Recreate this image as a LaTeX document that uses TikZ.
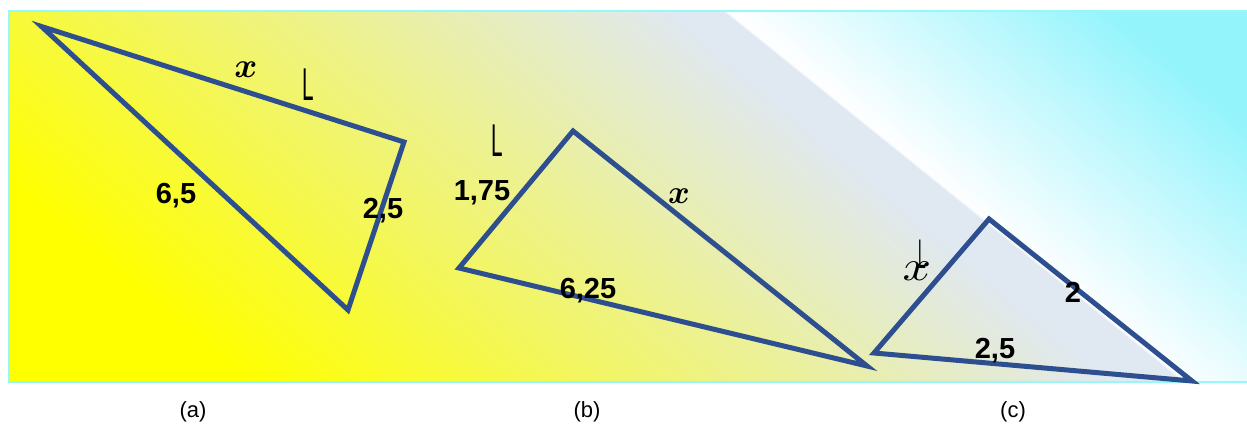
\documentclass[tikz,border=0pt]{standalone}
\usepackage{fontspec}
\setmainfont{Liberation Sans}
\usepackage{bm}
\definecolor{triblue}{RGB}{46,79,143}
\definecolor{cY}{RGB}{255,255,0}
\definecolor{cL}{RGB}{224,232,242}
\definecolor{cW}{RGB}{252,254,255}
\definecolor{cC}{RGB}{148,244,252}
\definecolor{cBorder}{RGB}{150,248,250}
\pgfdeclarehorizontalshading{lowsh}{100bp}{color(0bp)=(cY); color(25bp)=(cY); color(63bp)=(cL); color(100bp)=(cL)}
\pgfdeclarehorizontalshading{upsh}{100bp}{color(0bp)=(cW); color(48bp)=(cW); color(75bp)=(cC); color(100bp)=(cC)}
\begin{document}
\begin{tikzpicture}[x=1pt,y=-1pt,
  tri/.style={draw=triblue, line width=5pt, line join=miter},
  num/.style={font=\fontsize{29}{30}\selectfont\bfseries, anchor=base, inner sep=0pt},
  varx/.style={anchor=base, inner sep=0pt, font=\normalsize},
  marker/.style={anchor=base, inner sep=0pt, font=\fontsize{46}{46}\selectfont},
  capt/.style={anchor=base, inner sep=0pt, font=\fontsize{22}{22}\selectfont}]
\useasboundingbox (0,0) rectangle (1247,423);
% background
\coordinate (bgTL) at (9,11);
\coordinate (dTop) at (726,11);
\coordinate (dBot) at (1186,382);
\coordinate (bgBL) at (9,382);
\coordinate (bgTR) at (1252,11);
\coordinate (bgBR) at (1252,382);
\begin{scope}
  \clip (bgTL) -- (dTop) -- (dBot) -- (bgBL) -- cycle;
  \shade[shading=lowsh, shading angle=50] (bgTL) rectangle (dBot);
\end{scope}
\begin{scope}
  \clip (dTop) -- (bgTR) -- (bgBR) -- (dBot) -- cycle;
  \shade[shading=upsh, shading angle=50] (dTop) rectangle (bgBR);
\end{scope}
\draw[white, opacity=0.55, line width=3pt] (dTop) -- (dBot);
\draw[cBorder, line width=2pt] (bgTL) rectangle (bgBR);
% triangles
\coordinate (a1) at (41.5,26.5);
\coordinate (a2) at (404,142);
\coordinate (a3) at (348,310);
\coordinate (b1) at (573,131);
\coordinate (b2) at (459,268);
\coordinate (b3) at (867,366);
\coordinate (c1) at (989,219);
\coordinate (c2) at (874,353);
\coordinate (c3) at (1192,381);
\draw[tri] (a1) -- (a2) -- (a3) -- cycle;
\draw[tri] (b1) -- (b2) -- (b3) -- cycle;
\draw[tri] (c1) -- (c2) -- (c3) -- cycle;
% labels
\node[num] (l65) at (176,203) {6,5};
\node[num] (l25a) at (383,218) {2,5};
\node[num] (l175) at (482,200) {1,75};
\node[num] (l625) at (588,298) {6,25};
\node[num] (l25c) at (995,358) {2,5};
\node[num] (l2) at (1073,302) {2};
\node[varx] (xa) at (246,77) {\scalebox{3.5}{$\bm{x}$}};
\node[varx] (xb) at (679,203) {\scalebox{3.3}{$\bm{x}$}};
\node[varx] (xc) at (917,280) {\scalebox{5}[4.3]{$x$}};
\node[marker] (La) at (308,100) {\scalebox{0.45}[1]{L}};
\node[marker] (Lb) at (497,156) {\scalebox{0.45}[1]{L}};
\node[marker] (Lc) at (922,268) {\scalebox{0.3}[0.9]{L}};
% captions
\node[capt] (ca) at (193,417) {(a)};
\node[capt] (cb) at (587,417) {(b)};
\node[capt] (cc) at (1013,417) {(c)};
\end{tikzpicture}
\end{document}
